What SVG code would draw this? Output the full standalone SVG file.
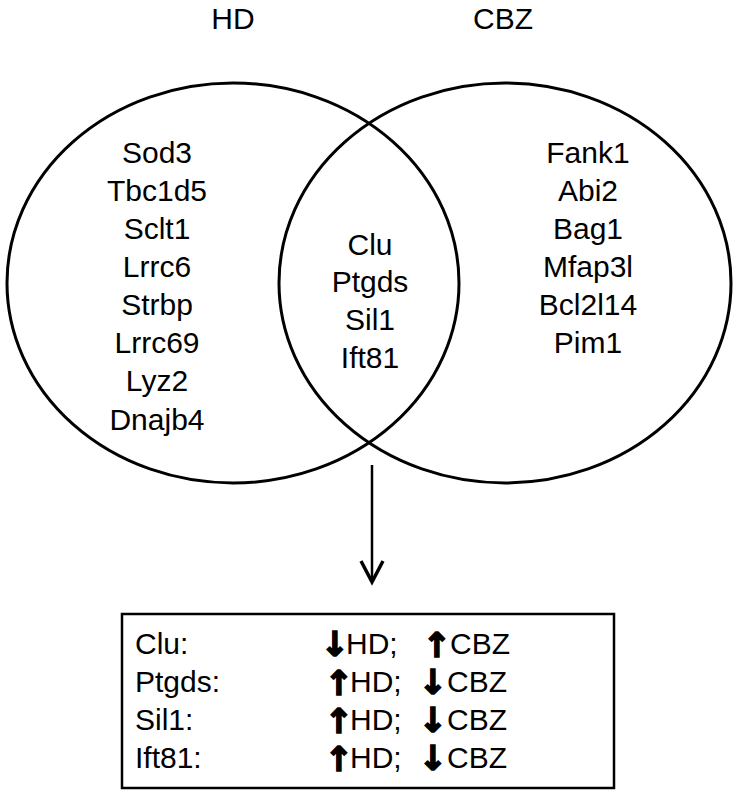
<svg xmlns="http://www.w3.org/2000/svg" width="738" height="797" viewBox="0 0 738 797">
<style>
.t{font-family:"Liberation Sans",Arial,sans-serif;font-size:30px;fill:#000}
.c{text-anchor:middle}
.ar{font-family:"DejaVu Sans",sans-serif;font-weight:bold;font-size:34px;fill:#000;stroke:#000;stroke-width:1.6;text-anchor:middle}
.sh{fill:none;stroke:#000;stroke-width:3}
</style>
<rect width="738" height="797" fill="#fff"/>
<g id="label-hd"><text class="t c" x="233" y="29">HD</text></g>
<g id="label-cbz"><text class="t c" x="503" y="29">CBZ</text></g>
<g id="set-hd">
<ellipse class="sh" cx="233" cy="283" rx="226" ry="200"/>
<text class="t c" x="157" y="163">Sod3</text>
<text class="t c" x="157" y="201">Tbc1d5</text>
<text class="t c" x="157" y="239">Sclt1</text>
<text class="t c" x="157" y="277">Lrrc6</text>
<text class="t c" x="157" y="315">Strbp</text>
<text class="t c" x="157" y="353">Lrrc69</text>
<text class="t c" x="157" y="391">Lyz2</text>
<text class="t c" x="157" y="430">Dnajb4</text>
</g>
<g id="set-cbz">
<ellipse class="sh" cx="505" cy="283" rx="226" ry="200"/>
<text class="t c" x="588" y="163">Fank1</text>
<text class="t c" x="588" y="201">Abi2</text>
<text class="t c" x="588" y="239">Bag1</text>
<text class="t c" x="588" y="277">Mfap3l</text>
<text class="t c" x="588" y="315">Bcl2l14</text>
<text class="t c" x="588" y="353">Pim1</text>
</g>
<g id="overlap">
<text class="t c" x="370" y="255">Clu</text>
<text class="t c" x="370" y="292">Ptgds</text>
<text class="t c" x="370" y="330">Sil1</text>
<text class="t c" x="370" y="368">Ift81</text>
</g>
<g id="connectors">
<line x1="372" y1="465" x2="372" y2="581" stroke="#000" stroke-width="2.5"/>
<polyline points="361,561 372,582 383,561" fill="none" stroke="#000" stroke-width="3.5" stroke-linejoin="miter"/>
</g>
<g id="summary">
<rect x="122" y="614" width="492" height="174" fill="none" stroke="#000" stroke-width="2.5"/>
<text class="t" x="135" y="654">Clu:</text>
<text class="t" x="135" y="692">Ptgds:</text>
<text class="t" x="135" y="730">Sil1:</text>
<text class="t" x="135" y="768">Ift81:</text>
<text class="ar" x="335" y="656">↓</text><text class="t" x="346" y="654">HD;</text>
<text class="ar" x="437" y="657">↑</text><text class="t" x="450" y="654">CBZ</text>
<text class="ar" x="339" y="695">↑</text><text class="t" x="350" y="692">HD;</text>
<text class="ar" x="433" y="694">↓</text><text class="t" x="447" y="692">CBZ</text>
<text class="ar" x="339" y="733">↑</text><text class="t" x="350" y="730">HD;</text>
<text class="ar" x="433" y="732">↓</text><text class="t" x="447" y="730">CBZ</text>
<text class="ar" x="339" y="771">↑</text><text class="t" x="350" y="768">HD;</text>
<text class="ar" x="433" y="770">↓</text><text class="t" x="447" y="768">CBZ</text>
</g>
</svg>
